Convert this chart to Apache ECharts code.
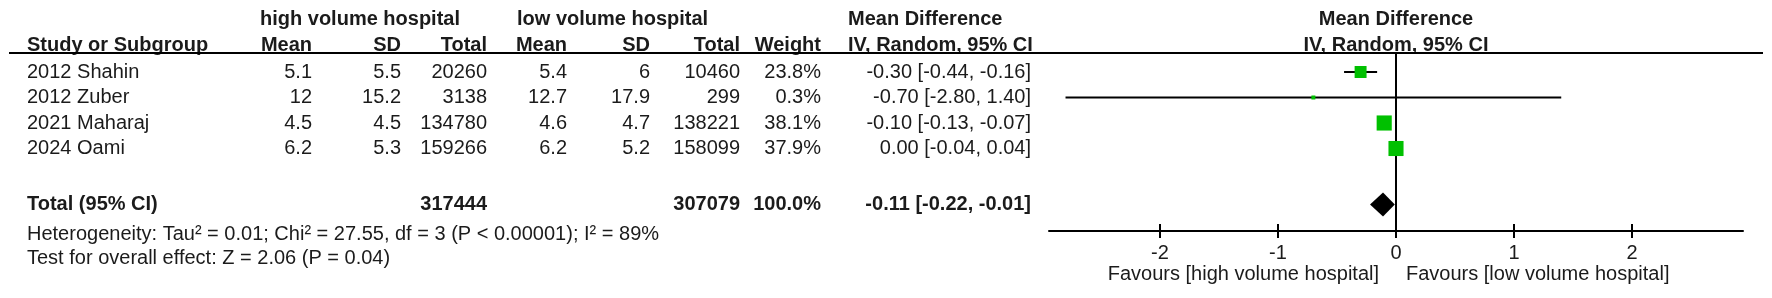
<!DOCTYPE html>
<html>
<head>
<meta charset="utf-8">
<script src="https://cdn.jsdelivr.net/npm/echarts@6/dist/echarts.min.js"></script>
<style>
  html, body { margin: 0; padding: 0; background: #fff; }
  #chart { width: 1772px; height: 298px; }
</style>
</head>
<body>
<div id="chart"></div>
<script>
// studies
var studies = ['2012 Shahin', '2012 Zuber', '2021 Maharaj', '2024 Oami'];
var hiMean = [5.1, 12, 4.5, 6.2];
var hiSD = [5.5, 15.2, 4.5, 5.3];
var hiN = [20260, 3138, 134780, 159266];
var loMean = [5.4, 12.7, 4.6, 6.2];
var loSD = [6, 17.9, 4.7, 5.2];
var loN = [10460, 299, 138221, 158099];
var weight = [23.8, 0.3, 38.1, 37.9];
var md = [-0.30, -0.70, -0.10, 0.00];
var ciLow = [-0.44, -2.80, -0.13, -0.04];
var ciHigh = [-0.16, 1.40, -0.07, 0.04];

// pooled
var totalHiN = 317444;
var totalLoN = 307079;
var totalWeight = 100.0;
var totalMd = -0.11;
var totalLow = -0.22;
var totalHigh = -0.01;
var heterogeneity = 'Heterogeneity: Tau² = 0.01; Chi² = 27.55, df = 3 (P < 0.00001); I² = 89%';
var overall = 'Test for overall effect: Z = 2.06 (P = 0.04)';

var tickValues = [-2, -1, 0, 1, 2];

// layout
var FONT = '"Liberation Sans", Arial, sans-serif';
var TXT = '#1b1b1b';
var GREEN = '#00c000';
var ROW0 = 72, ROWH = 25.5;
var yMin = -ROW0 / ROWH;
var yMaxTable = (298 - ROW0) / ROWH;
var yMaxPlot = (231 - ROW0) / ROWH;
var rowHdr1 = (19 - ROW0) / ROWH;
var rowHdr2 = (45 - ROW0) / ROWH;
var rowLine = (53 - ROW0) / ROWH;
var rowTotal = 5.2;
var rowHet = 6.38;
var rowTest = 7.3;

function fmt(v) { return v.toFixed(2); }
function ciText(m, l, h) { return fmt(m) + ' [' + fmt(l) + ', ' + fmt(h) + ']'; }

// table cells
var cells = [];
function cell(x, row, text, align, bold) {
  cells.push({x: x, row: row, text: String(text), align: align, bold: bold});
}
cell(260, rowHdr1, 'high volume hospital', 'left', true);
cell(517, rowHdr1, 'low volume hospital', 'left', true);
cell(848, rowHdr1, 'Mean Difference', 'left', true);
cell(27, rowHdr2, 'Study or Subgroup', 'left', true);
cell(312, rowHdr2, 'Mean', 'right', true);
cell(401, rowHdr2, 'SD', 'right', true);
cell(487, rowHdr2, 'Total', 'right', true);
cell(567, rowHdr2, 'Mean', 'right', true);
cell(650, rowHdr2, 'SD', 'right', true);
cell(740, rowHdr2, 'Total', 'right', true);
cell(821, rowHdr2, 'Weight', 'right', true);
cell(848, rowHdr2, 'IV, Random, 95% CI', 'left', true);
for (var i = 0; i < studies.length; i++) {
  cell(27, i, studies[i], 'left', false);
  cell(312, i, hiMean[i], 'right', false);
  cell(401, i, hiSD[i], 'right', false);
  cell(487, i, hiN[i], 'right', false);
  cell(567, i, loMean[i], 'right', false);
  cell(650, i, loSD[i], 'right', false);
  cell(740, i, loN[i], 'right', false);
  cell(821, i, weight[i].toFixed(1) + '%', 'right', false);
  cell(1031, i, ciText(md[i], ciLow[i], ciHigh[i]), 'right', false);
}
cell(27, rowTotal, 'Total (95% CI)', 'left', true);
cell(487, rowTotal, totalHiN, 'right', true);
cell(740, rowTotal, totalLoN, 'right', true);
cell(821, rowTotal, totalWeight.toFixed(1) + '%', 'right', true);
cell(1031, rowTotal, ciText(totalMd, totalLow, totalHigh), 'right', true);
cell(27, rowHet, heterogeneity, 'left', false);
cell(27, rowTest, overall, 'left', false);

var plotHeads = [[0, rowHdr1, 'Mean Difference'], [0, rowHdr2, 'IV, Random, 95% CI']];

function textEl(pt, text, align, bold) {
  return {
    type: 'text',
    x: pt[0], y: pt[1],
    style: {
      text: text, fill: TXT, align: align, verticalAlign: 'middle',
      font: (bold ? 'bold ' : '') + '20px ' + FONT
    }
  };
}

var chart = echarts.init(document.getElementById('chart'), null, {renderer: 'canvas'});

var tickAxis = {
  type: 'value', gridIndex: 1, min: -2.94, max: 2.94, position: 'bottom',
  splitLine: {show: false}
};

chart.setOption({
  backgroundColor: '#fff',
  animation: false,
  grid: [
    {left: 0, top: 0, width: 1040, height: 298},
    {left: 1049, top: 0, width: 694, height: 231}
  ],
  xAxis: [
    {type: 'value', gridIndex: 0, min: 0, max: 1040, show: false},
    Object.assign({}, tickAxis, {
      axisLine: {show: true, onZero: false, lineStyle: {color: '#000', width: 2}},
      axisTick: {show: true, inside: true, length: 7, customValues: tickValues, lineStyle: {color: '#000', width: 2}},
      axisLabel: {show: false}
    }),
    Object.assign({}, tickAxis, {
      axisLine: {show: false, onZero: false},
      axisTick: {show: true, inside: false, length: 7, customValues: tickValues, lineStyle: {color: '#000', width: 2}},
      axisLabel: {show: true, customValues: tickValues, margin: 12, color: TXT, fontSize: 20, fontFamily: FONT}
    })
  ],
  yAxis: [
    {type: 'value', gridIndex: 0, min: yMin, max: yMaxTable, inverse: true, show: false},
    {type: 'value', gridIndex: 1, min: yMin, max: yMaxPlot, inverse: true, show: false}
  ],
  graphic: [
    {type: 'line', shape: {x1: 9, y1: 53, x2: 1763, y2: 53}, style: {stroke: '#000', lineWidth: 2}, z: 10},
    {type: 'text', x: 1379, y: 274, style: {text: 'Favours [high volume hospital]', fill: TXT, align: 'right', verticalAlign: 'middle', font: '20px ' + FONT}},
    {type: 'text', x: 1406, y: 274, style: {text: 'Favours [low volume hospital]', fill: TXT, align: 'left', verticalAlign: 'middle', font: '20px ' + FONT}}
  ],
  series: [
    {
      name: 'table', type: 'custom', xAxisIndex: 0, yAxisIndex: 0,
      data: cells.map(function (c, k) { return [c.x, c.row, k]; }),
      renderItem: function (params, api) {
        var c = cells[api.value(2)];
        return textEl(api.coord([api.value(0), api.value(1)]), c.text, c.align, c.bold);
      }
    },
    {
      name: 'plot header', type: 'custom', xAxisIndex: 1, yAxisIndex: 1,
      data: plotHeads.map(function (h, k) { return [h[0], h[1], k]; }),
      renderItem: function (params, api) {
        return textEl(api.coord([api.value(0), api.value(1)]), plotHeads[api.value(2)][2], 'center', true);
      }
    },
    {
      name: 'zero line', type: 'custom', xAxisIndex: 1, yAxisIndex: 1,
      data: [[0, rowLine, yMaxPlot]],
      renderItem: function (params, api) {
        var a = api.coord([api.value(0), api.value(1)]);
        var b = api.coord([api.value(0), api.value(2)]);
        return {type: 'line', shape: {x1: a[0], y1: a[1], x2: b[0], y2: b[1]}, style: {stroke: '#000', lineWidth: 2}};
      }
    },
    {
      name: 'CI', type: 'custom', xAxisIndex: 1, yAxisIndex: 1,
      data: studies.map(function (s, k) { return [ciLow[k], ciHigh[k], k]; }),
      renderItem: function (params, api) {
        var a = api.coord([api.value(0), api.value(2)]);
        var b = api.coord([api.value(1), api.value(2)]);
        return {type: 'line', shape: {x1: a[0], y1: a[1], x2: b[0], y2: b[1]}, style: {stroke: '#000', lineWidth: 2}};
      },
      z: 3
    },
    {
      name: 'estimate', type: 'scatter', xAxisIndex: 1, yAxisIndex: 1,
      symbol: 'rect',
      symbolSize: function (val, params) {
        return Math.max(4, 2.45 * Math.sqrt(weight[params.dataIndex]));
      },
      itemStyle: {color: GREEN, opacity: 1},
      data: studies.map(function (s, k) { return [md[k], k]; }),
      z: 4
    },
    {
      name: 'pooled', type: 'custom', xAxisIndex: 1, yAxisIndex: 1,
      data: [[totalMd, totalLow, totalHigh, rowTotal]],
      renderItem: function (params, api) {
        var c = api.coord([api.value(0), api.value(3)]);
        var l = api.coord([api.value(1), api.value(3)]);
        var r = api.coord([api.value(2), api.value(3)]);
        var h = 12;
        return {
          type: 'polygon',
          shape: {points: [[l[0], c[1]], [c[0], c[1] - h], [r[0], c[1]], [c[0], c[1] + h]]},
          style: {fill: '#000'}
        };
      },
      z: 5
    }
  ]
});
</script>
</body>
</html>
